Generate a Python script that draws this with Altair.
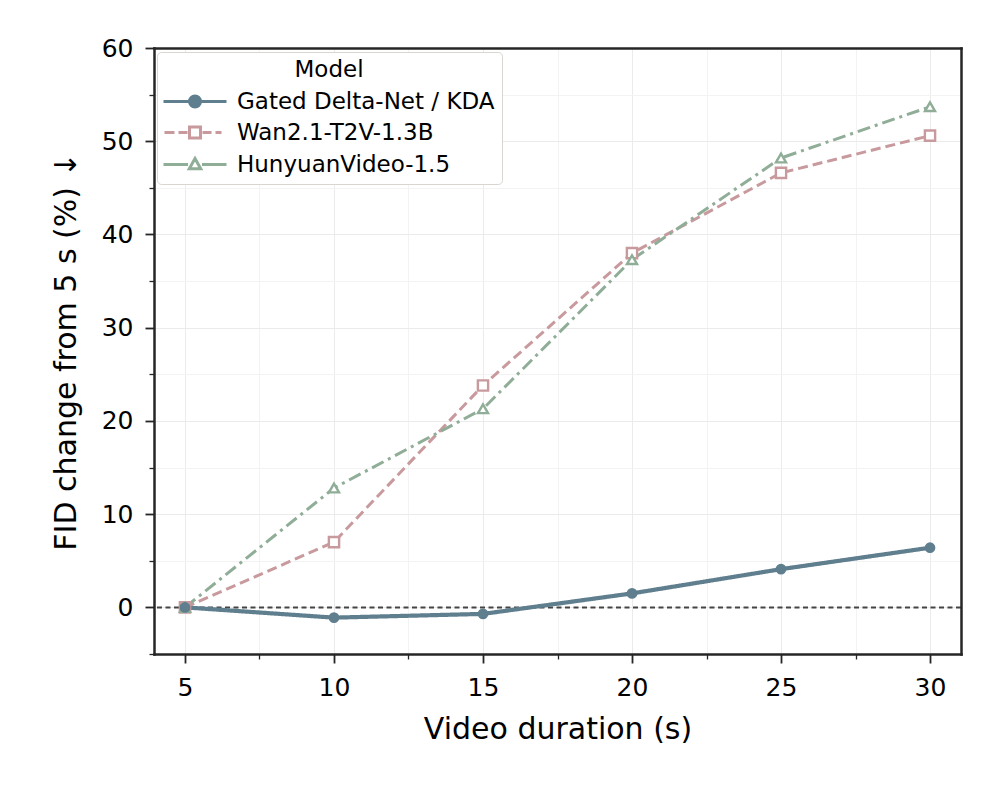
import altair as alt
import pandas as pd

# ---------------- data ----------------
durations = [5, 10, 15, 20, 25, 30]
gated = [0.0, -1.1, -0.7, 1.5, 4.1, 6.4]
wan = [0.0, 7.0, 23.8, 38.0, 46.6, 50.6]
hunyuan = [0.0, 12.8, 21.3, 37.3, 48.2, 53.7]
models = ["Gated Delta-Net / KDA", "Wan2.1-T2V-1.3B", "HunyuanVideo-1.5"]
x_major = [5, 10, 15, 20, 25, 30]
x_minor = [7.5, 12.5, 17.5, 22.5, 27.5]
y_major = [0, 10, 20, 30, 40, 50, 60]
y_minor = [-5, 5, 15, 25, 35, 45, 55]
zero_line = [0]

series = {models[0]: gated, models[1]: wan, models[2]: hunyuan}
rows = []
for m in models:
    for d, v in zip(durations, series[m]):
        rows.append({"duration": d, "value": v, "Model": m})
df = pd.DataFrame(rows)

# ---------------- styles ----------------
colors = ["#5f7e8e", "#c89a9e", "#8fad97"]
dashes = [[1, 0], [10, 5], [13, 5, 3, 5]]
widths = [4.2, 3.0, 3.0]
shapes = ["circle", "square", "triangle-up"]
fills = [colors[0], "white", "white"]
sizes = [85, 105, 100]

legend_paths = [
    "M-6.3,0H6.3M1.1,0A1.1,1.1,0,1,1,-1.1,0A1.1,1.1,0,1,1,1.1,0Z",
    "M-6.1,0H-4.1M-3.3,0H-1.5M1.5,0H3.3M4.1,0H5.3M-1.1,-1.1H1.1V1.1H-1.1Z",
    "M-6.3,0H-1.4M1.4,0H6.3M0,-1.2L1.15,0.85L-1.15,0.85Z",
]

FONT = "DejaVu Sans"
FRAME = "#262626"
xscale = alt.Scale(domain=[3.96, 31.04], nice=False, zero=False)
yscale = alt.Scale(domain=[-5, 60], nice=False, zero=False)
GRID = "#ebebeb"

x_major_axis = alt.Axis(
    values=x_major, orient="bottom", title="Video duration (s)", domain=False,
    tickSize=9, tickWidth=1.8, tickColor=FRAME, labelFontSize=25,
    labelColor="#000000", labelPadding=12, labelFont=FONT, grid=True,
    gridColor=GRID, gridWidth=1, titleFontSize=30, titleFont=FONT,
    titleFontWeight="normal", titleColor="#000000", titleX=403.5, titleY=75,
    titleBaseline="middle", titleAlign="center", labelFlush=False,
)
y_major_axis = alt.Axis(
    values=y_major, orient="left", title="FID change from 5 s (%) \u2193", domain=False,
    tickSize=9, tickWidth=1.8, tickColor=FRAME, labelFontSize=25,
    labelColor="#000000", labelPadding=12, labelFont=FONT, grid=True,
    gridColor=GRID, gridWidth=1, titleFontSize=30, titleFont=FONT,
    titleFontWeight="normal", titleColor="#000000", titleX=-88, titleY=303,
    titleBaseline="middle", titleAlign="center", titleAngle=270, labelFlush=False,
)
x_minor_axis = alt.Axis(
    values=x_minor, orient="bottom", title=None, domain=False, labels=False,
    tickSize=5, tickWidth=1.3, tickColor=FRAME, grid=True,
    gridColor="#f3f3f3", gridWidth=1,
)
y_minor_axis = alt.Axis(
    values=y_minor, orient="left", title=None, domain=False, labels=False,
    tickSize=5, tickWidth=1.3, tickColor=FRAME, grid=True,
    gridColor="#f3f3f3", gridWidth=1,
)


def frame_axis(orient):
    return alt.Axis(
        orient=orient, title=None, domain=True, domainColor=FRAME,
        domainWidth=2.5, domainCap="square", ticks=False, labels=False,
        grid=False, zindex=2,
    )


# zero reference line
zero = alt.Chart(pd.DataFrame({"zero": zero_line})).mark_rule(
    color="#444444", strokeDash=[5, 3.5], strokeWidth=2
).encode(y=alt.Y("zero:Q", scale=yscale, axis=None))

# legend + minor axes layer (draws nothing in the plot)
legend = alt.Legend(
    title="Model", orient="none", legendX=3, legendY=4, direction="vertical",
    titleFontSize=23, titleFontWeight="normal", titleAnchor="middle",
    titleColor="#000000", titleFont=FONT, titlePadding=8,
    labelFontSize=23, labelFont=FONT, labelColor="#000000", labelLimit=0,
    labelOffset=30.5, symbolOffset=19.5, symbolSize=100, symbolStrokeWidth=3,
    padding=7, rowPadding=7, fillColor="white", strokeColor="#d8d6cf",
    cornerRadius=4, zindex=3,
)
legend_layer = alt.Chart(df).transform_filter("false").mark_point(
    strokeWidth=3, opacity=1
).encode(
    x=alt.X("duration:Q", scale=xscale, axis=x_minor_axis),
    y=alt.Y("value:Q", scale=yscale, axis=y_minor_axis),
    stroke=alt.Stroke("Model:N", scale=alt.Scale(domain=models, range=colors), legend=legend),
    fill=alt.Fill("Model:N", scale=alt.Scale(domain=models, range=fills), legend=legend),
    shape=alt.Shape("Model:N", scale=alt.Scale(domain=models, range=legend_paths), legend=legend),
)

frame_a = alt.Chart(df).transform_filter("false").mark_point().encode(
    x=alt.X("duration:Q", scale=xscale, axis=frame_axis("bottom")),
    y=alt.Y("value:Q", scale=yscale, axis=frame_axis("left")),
)
frame_b = alt.Chart(df).transform_filter("false").mark_point().encode(
    x=alt.X("duration:Q", scale=xscale, axis=frame_axis("top")),
    y=alt.Y("value:Q", scale=yscale, axis=frame_axis("right")),
)

line_layers = []
point_layers = []
order = [1, 2, 0]
first = True
for i in order:
    m = models[i]
    base = alt.Chart(df).transform_filter(alt.datum.Model == m)
    if first:
        xenc = alt.X("duration:Q", scale=xscale, axis=x_major_axis)
        yenc = alt.Y("value:Q", scale=yscale, axis=y_major_axis)
        first = False
    else:
        xenc = alt.X("duration:Q", scale=xscale, axis=None)
        yenc = alt.Y("value:Q", scale=yscale, axis=None)
    line_layers.append(
        base.mark_line(color=colors[i], strokeDash=dashes[i], strokeWidth=widths[i])
        .encode(x=xenc, y=yenc)
    )
    point_layers.append(
        base.mark_point(
            shape=shapes[i], size=sizes[i], fill=fills[i], stroke=colors[i],
            strokeWidth=2.4 if i else 1.5, opacity=1, filled=False,
        ).encode(
            x=alt.X("duration:Q", scale=xscale, axis=None),
            y=alt.Y("value:Q", scale=yscale, axis=None),
        )
    )

chart = alt.layer(
    line_layers[0], zero, *line_layers[1:], *point_layers, legend_layer,
    frame_a, frame_b,
).resolve_axis(x="independent", y="independent").properties(
    width=807, height=606,
    padding={"left": 146, "top": 40, "right": 27, "bottom": 136},
    autosize=alt.AutoSizeParams(type="none"),
).configure_view(
    stroke="transparent"
).configure_legend(
    strokeWidth=1.5
).configure(font=FONT, background="white")

chart.save("out.html", embed_options={"renderer": "svg", "actions": False})
